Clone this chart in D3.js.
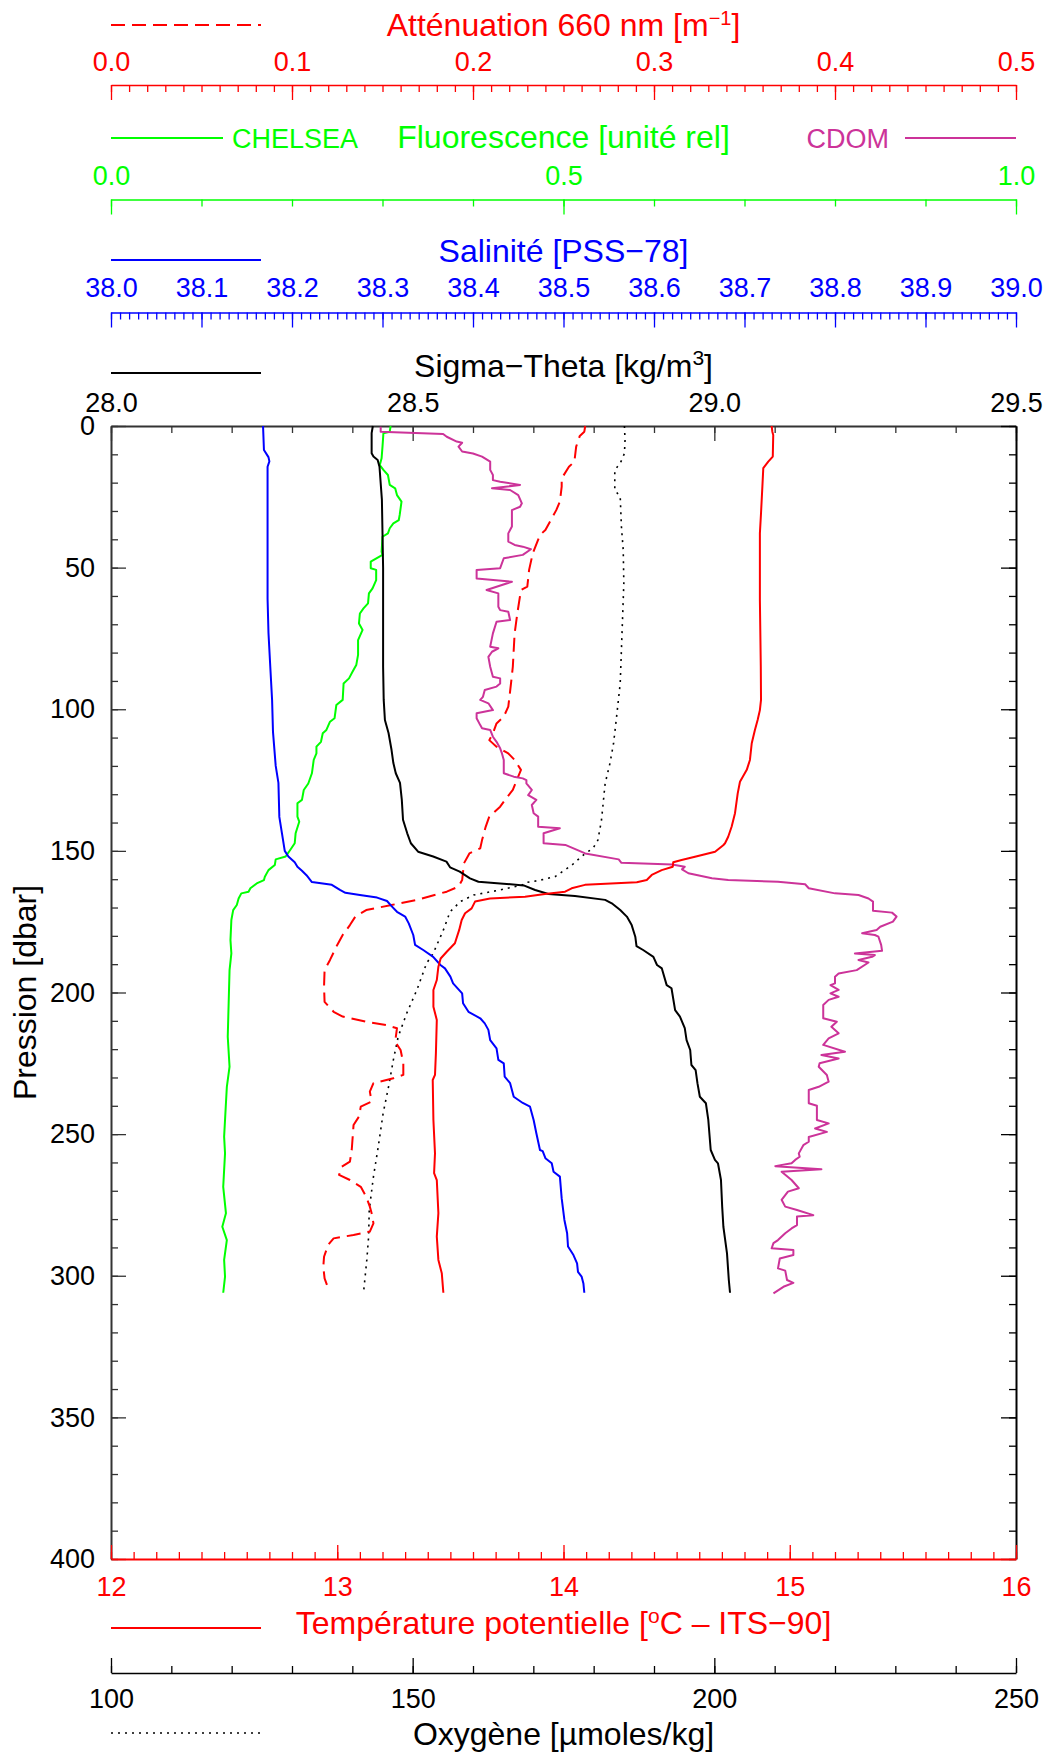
<!DOCTYPE html>
<html>
<head>
<meta charset="utf-8">
<script src="https://cdn.jsdelivr.net/npm/d3@7"></script>
<style>
  html, body { margin: 0; padding: 0; background: #fff; }
  svg { display: block; }
  text { font-family: "Liberation Sans", Arial, Helvetica, sans-serif; }
</style>
</head>
<body>
<svg id="chart" width="1050" height="1758"></svg>
<script>
// ---- Profile data: each entry is [pressure (dbar), value] ----

// Sigma-Theta [kg/m3]
const sigmaTheta = [
  [0, 28.434], [2.5, 28.432], [9.6, 28.432], [10.8, 28.435], [12, 28.442], [14.4, 28.445], [26, 28.449],
  [37.8, 28.450], [50, 28.451], [85, 28.451], [96.7, 28.452], [103.8, 28.454], [108.4, 28.460],
  [114.4, 28.465], [119, 28.468], [122.6, 28.472], [126, 28.479], [132, 28.482], [139, 28.484],
  [143.8, 28.491], [147.3, 28.497], [150.3, 28.509], [152, 28.534], [153.8, 28.556], [155.8, 28.562],
  [157.3, 28.578], [159.7, 28.595], [160.9, 28.609], [161.5, 28.645], [162.2, 28.684], [163.8, 28.703],
  [165.2, 28.725], [165.9, 28.769], [167.3, 28.819], [168.5, 28.830], [170.9, 28.844], [173.2, 28.855],
  [176.2, 28.863], [180.3, 28.869], [183.6, 28.871], [185, 28.882], [187.4, 28.899], [190.3, 28.905],
  [191.5, 28.913], [197.4, 28.921], [198.5, 28.929], [206.2, 28.935], [208.5, 28.943], [212.6, 28.951],
  [216.8, 28.954], [220.3, 28.960], [225.6, 28.962], [227.4, 28.969], [232, 28.972], [236.8, 28.976],
  [239.1, 28.986], [245, 28.990], [255.6, 28.994], [259.1, 29.001], [260.3, 29.006], [266.2, 29.011],
  [275.6, 29.013], [282.7, 29.015], [292.1, 29.021], [301.5, 29.024], [306, 29.026]
];

// Salinity [PSS-78]
const salinity = [
  [0, 38.168], [8.5, 38.169], [11, 38.174], [12.5, 38.175], [14.4, 38.173], [61, 38.173], [73, 38.174],
  [85, 38.176], [96.7, 38.178], [108, 38.179], [120, 38.182], [126, 38.185], [138, 38.186], [144, 38.189],
  [150, 38.192], [152, 38.196], [154, 38.203], [155.6, 38.206], [157, 38.211], [158.6, 38.216],
  [161, 38.222], [162, 38.244], [163.8, 38.253], [164.8, 38.259], [165.6, 38.275], [166.5, 38.294],
  [167.7, 38.305], [169.5, 38.310], [171.5, 38.316], [173.2, 38.325], [175.6, 38.329], [179.7, 38.334],
  [183.2, 38.336], [185, 38.345], [187.4, 38.356], [190.3, 38.364], [191.5, 38.369], [194.4, 38.375],
  [196.8, 38.378], [200.3, 38.388], [203.8, 38.389], [206.8, 38.395], [209.1, 38.408], [210.9, 38.413],
  [213.2, 38.417], [216.8, 38.419], [219.7, 38.426], [223.8, 38.428], [225, 38.434], [229.7, 38.435],
  [232, 38.441], [236.8, 38.445], [239, 38.455], [240.3, 38.463], [245, 38.467], [249.7, 38.470],
  [255.6, 38.474], [256, 38.477], [258.5, 38.480], [260.3, 38.487], [263.3, 38.489], [265, 38.496],
  [272.7, 38.498], [280.3, 38.501], [285, 38.504], [289.7, 38.505], [292.7, 38.511], [295.6, 38.515],
  [298.6, 38.516], [300.3, 38.520], [302.7, 38.522], [306, 38.523]
];

// Fluorescence CHELSEA [relative units]
const fluorescence = [
  [0, 0.309], [2, 0.308], [2.6, 0.301], [7.3, 0.300], [11.4, 0.299], [13.8, 0.297], [15.5, 0.301],
  [17.3, 0.306], [20.8, 0.308], [22, 0.314], [24.4, 0.316], [26.7, 0.321], [31.4, 0.319], [33.2, 0.318],
  [34.4, 0.312], [36.1, 0.308], [37.9, 0.306], [39.1, 0.300], [44.4, 0.299], [45.5, 0.300], [47.9, 0.287],
  [50.2, 0.287], [50.8, 0.293], [54.4, 0.293], [57.3, 0.289], [59.1, 0.285], [62.6, 0.284], [64.4, 0.279],
  [66.2, 0.275], [69.7, 0.274], [72, 0.278], [75.6, 0.273], [80.8, 0.273], [84.4, 0.271], [86.7, 0.267],
  [89.1, 0.263], [90.9, 0.257], [96.7, 0.256], [98.5, 0.249], [103.2, 0.247], [104.4, 0.242],
  [107.3, 0.238], [108.5, 0.234], [111.5, 0.232], [113.2, 0.227], [115.6, 0.227], [117.9, 0.224],
  [122.6, 0.222], [126.2, 0.218], [128.5, 0.213], [132, 0.211], [133.2, 0.206], [137.9, 0.206],
  [139.7, 0.208], [143.8, 0.204], [147.3, 0.203], [149.7, 0.198], [152, 0.193], [153, 0.182], [155, 0.181],
  [156.8, 0.174], [159.1, 0.170], [160.3, 0.169], [161.5, 0.161], [163.2, 0.154], [164.4, 0.152],
  [165, 0.144], [166.8, 0.141], [169.1, 0.139], [170.9, 0.135], [174.4, 0.133], [181.5, 0.132],
  [186.2, 0.133], [192.1, 0.131], [203.8, 0.130], [215.6, 0.129], [226.2, 0.131], [233.3, 0.128],
  [239.1, 0.127], [250.9, 0.125], [256.8, 0.126], [268.6, 0.124], [277.9, 0.127], [282.7, 0.123],
  [287.4, 0.128], [294.4, 0.125], [300.3, 0.126], [306, 0.124]
];

// CDOM fluorescence [relative units]
const cdom = [
  [0.3, 0.298], [2, 0.298], [2.8, 0.367], [3.8, 0.371], [5.5, 0.382], [5.9, 0.388], [7.3, 0.384], [9, 0.388],
  [9.7, 0.400], [10.8, 0.410], [12.6, 0.419], [15.5, 0.419], [17.3, 0.422], [19.1, 0.422], [19.7, 0.430],
  [20.8, 0.452], [22, 0.421], [22.6, 0.441], [24.4, 0.450], [27.3, 0.454], [28.5, 0.452], [29.7, 0.443],
  [35.5, 0.443], [37.9, 0.439], [40.8, 0.439], [42, 0.446], [42.6, 0.455], [43.5, 0.464], [45.5, 0.455],
  [46.7, 0.434], [50.2, 0.430], [50.8, 0.404], [53.8, 0.404], [55, 0.443], [57.9, 0.415], [59.1, 0.428],
  [63.8, 0.428], [65, 0.430], [65.6, 0.439], [68.5, 0.441], [69.1, 0.426], [73.2, 0.422], [77.9, 0.419],
  [78.5, 0.428], [79.7, 0.421], [81.5, 0.417], [85, 0.419], [88.5, 0.422], [89.1, 0.430], [90.9, 0.430],
  [92, 0.426], [93.2, 0.413], [95.6, 0.411], [96.7, 0.408], [97.9, 0.417], [100.3, 0.422], [101.4, 0.404],
  [103.2, 0.404], [105.6, 0.408], [106.7, 0.410], [107.3, 0.419], [109.7, 0.422], [111.5, 0.426],
  [113.8, 0.430], [115.6, 0.432], [117.9, 0.434], [122.6, 0.434], [123.8, 0.445], [124.4, 0.455],
  [125, 0.459], [126.2, 0.459], [128.5, 0.465], [130.3, 0.461], [132, 0.470], [133.8, 0.465],
  [136.7, 0.467], [137.9, 0.472], [141.5, 0.472], [142, 0.496], [143.8, 0.478], [147.3, 0.478],
  [147.9, 0.502], [150.9, 0.524], [153, 0.561], [154.2, 0.564], [154.8, 0.620], [155.6, 0.634],
  [156.5, 0.631], [157.9, 0.638], [159.7, 0.664], [160.3, 0.682], [160.9, 0.737], [161.8, 0.767],
  [163.2, 0.771], [165, 0.800], [165.6, 0.826], [166.8, 0.837], [167.9, 0.842], [171.1, 0.842],
  [171.8, 0.863], [173.2, 0.868], [175, 0.864], [176.8, 0.850], [177.9, 0.846], [179.1, 0.830],
  [179.7, 0.844], [180.3, 0.848], [183.2, 0.851], [185.3, 0.852], [186.2, 0.822], [186.8, 0.844],
  [187.4, 0.841], [188.5, 0.826], [189.4, 0.837], [192.1, 0.824], [193.3, 0.804], [194.4, 0.800],
  [196.8, 0.800], [197.4, 0.795], [199.1, 0.804], [200.3, 0.795], [201.5, 0.804], [202.6, 0.793],
  [204.4, 0.787], [209.1, 0.787], [210.3, 0.802], [212.1, 0.796], [214.4, 0.804], [216.2, 0.793],
  [218.5, 0.787], [220.9, 0.811], [222.1, 0.785], [223.3, 0.804], [225, 0.783], [226.2, 0.782],
  [229.1, 0.791], [231.5, 0.793], [233.3, 0.782], [234.4, 0.771], [239.1, 0.771], [240, 0.780],
  [245, 0.780], [246.2, 0.793], [248, 0.778], [249.2, 0.791], [251, 0.771], [252.7, 0.771],
  [253.9, 0.765], [256.8, 0.760], [258, 0.761], [259.1, 0.756], [260.3, 0.752], [261.3, 0.734],
  [262.4, 0.785], [263.3, 0.741], [266.2, 0.752], [269.1, 0.760], [270.3, 0.748], [273.2, 0.741],
  [275.6, 0.745], [276.8, 0.758], [278.6, 0.776], [279.1, 0.758], [282.1, 0.758], [283.3, 0.752],
  [285, 0.745], [287.4, 0.737], [288.5, 0.732], [290.3, 0.730], [290.9, 0.754], [292.7, 0.754],
  [293.9, 0.739], [297.4, 0.737], [298.2, 0.745], [301.5, 0.747], [302.5, 0.754], [303.9, 0.743],
  [306.2, 0.732]
];

// Beam attenuation at 660 nm [1/m]
const attenuation = [
  [0, 0.262], [2, 0.2615], [3.5, 0.259], [7.3, 0.257], [12.6, 0.256], [14.4, 0.253], [18.5, 0.249],
  [21.4, 0.249], [26.7, 0.248], [29.7, 0.246], [33.2, 0.243], [36.7, 0.240], [38.5, 0.237], [45, 0.233],
  [50.8, 0.231], [56.7, 0.230], [57.9, 0.2265], [66.1, 0.2245], [73.2, 0.223], [85, 0.222], [90.9, 0.221],
  [99.1, 0.2195], [102.6, 0.217], [105, 0.213], [108.5, 0.211], [110.9, 0.209], [113.2, 0.213],
  [115.6, 0.2195], [117.9, 0.223], [121.4, 0.2265], [128.5, 0.222], [130.9, 0.219], [134.4, 0.215],
  [137.9, 0.209], [141.5, 0.207], [146.2, 0.205], [149.1, 0.204], [150.9, 0.198], [154.4, 0.195],
  [160.3, 0.194], [162.6, 0.192], [164.4, 0.1855], [167.3, 0.169], [169.1, 0.155], [170.9, 0.141],
  [173.2, 0.135], [176.2, 0.132], [179.7, 0.128], [183.2, 0.125], [188.5, 0.121], [192.1, 0.118],
  [198, 0.1177], [203.3, 0.118], [206.8, 0.123], [208.5, 0.128], [210.3, 0.141], [211.5, 0.152],
  [212.6, 0.158], [217.4, 0.157], [220.3, 0.160], [225, 0.1615], [229.1, 0.1615], [230.3, 0.156],
  [232, 0.145], [235, 0.143], [238.5, 0.144], [240.3, 0.138], [243.8, 0.137], [246.8, 0.134],
  [255.6, 0.133], [259.7, 0.132], [261.5, 0.1275], [264.4, 0.126], [266.2, 0.132], [268.6, 0.138],
  [272.1, 0.141], [275.6, 0.143], [277.9, 0.144], [281.5, 0.145], [284.4, 0.143], [285.6, 0.134],
  [286.8, 0.123], [289.1, 0.120], [293.3, 0.1177], [296.8, 0.1173], [300.9, 0.118], [303.9, 0.1197]
];

// Potential temperature [degC, ITS-90]
const temperature = [
  [0, 14.920], [2, 14.923], [3.2, 14.927], [10.8, 14.925], [12.6, 14.905], [14.9, 14.883], [21.4, 14.879],
  [30.8, 14.873], [37.9, 14.868], [61.4, 14.868], [85, 14.872], [96.7, 14.873], [100.3, 14.868],
  [103.8, 14.858], [107.3, 14.846], [112, 14.832], [117.9, 14.824], [121.4, 14.810], [125.6, 14.780],
  [129.7, 14.770], [136.7, 14.758], [141.5, 14.743], [145, 14.728], [147.3, 14.714], [148, 14.706],
  [150.3, 14.670], [152.1, 14.581], [153.2, 14.522], [154, 14.485], [155.6, 14.483], [156.8, 14.434],
  [158.5, 14.390], [160.3, 14.368], [161.1, 14.324], [162, 14.095], [163.2, 14.036], [164.4, 14.007],
  [165.2, 13.918], [166.2, 13.830], [166.8, 13.675], [167.9, 13.609], [170.3, 13.594], [172, 13.565],
  [174.4, 13.550], [177.9, 13.539], [182.6, 13.520], [185.6, 13.484], [188, 13.457], [190.9, 13.447],
  [195.6, 13.440], [199.1, 13.425], [205, 13.425], [209.7, 13.440], [221.5, 13.436], [229.1, 13.432],
  [230.9, 13.422], [245, 13.425], [256.8, 13.432], [263.8, 13.428], [266.2, 13.440], [277.9, 13.447],
  [286.2, 13.440], [294.4, 13.447], [299.1, 13.462], [306, 13.469]
];

// Dissolved oxygen [umol/kg]
const oxygen = [
  [0, 185.1], [5, 185.2], [9.7, 185.1], [13.2, 184.4], [15.5, 183.5], [22.6, 183.5], [25, 184.4],
  [35.5, 184.6], [43.8, 184.9], [55.5, 185.0], [67.3, 184.8], [79.1, 184.6], [90.8, 184.4],
  [102.6, 183.8], [112, 183.3], [119.1, 182.7], [126.2, 181.9], [139.1, 181.3], [146.2, 180.7],
  [149.1, 179.9], [150.9, 178.6], [155, 176.4], [159.1, 173.6], [160.5, 170.8], [161.2, 168.6],
  [162, 168.2], [163.8, 164.5], [165.6, 160.1], [167.9, 157.9], [171.5, 156.2], [177.9, 155.1],
  [186.2, 153.4], [189.7, 152.3], [199.1, 150.7], [207.4, 149.0], [215.6, 147.6], [223.8, 146.8],
  [233.3, 146.0], [242.7, 145.1], [254.4, 144.3], [265, 143.5], [276.8, 142.8], [286.2, 142.7],
  [294.4, 142.4], [305, 141.9]
];

// ---- Tick values ----
const pressureTicks = [0, 50, 100, 150, 200, 250, 300, 350, 400];
const attenuationTicks = [0, 0.1, 0.2, 0.3, 0.4, 0.5];
const fluorescenceTicks = [0, 0.5, 1.0];
const salinityTicks = [38.0, 38.1, 38.2, 38.3, 38.4, 38.5, 38.6, 38.7, 38.8, 38.9, 39.0];
const sigmaTicks = [28.0, 28.5, 29.0, 29.5];
const temperatureTicks = [12, 13, 14, 15, 16];
const oxygenTicks = [100, 150, 200, 250];

// ---- Layout ----
const FONT = '"Liberation Sans", Arial, Helvetica, sans-serif';
const X0 = 111, X1 = 1016, Y0 = 426, Y1 = 1559, XC = (X0 + X1) / 2;
const RED = "#ff0000", GREEN = "#00ff00", BLUE = "#0000ff", MAGENTA = "#cc3399", INK = "#000", FRAME = "#333";

const svg = d3.select("#chart");
svg.append("rect").attr("width", 1050).attr("height", 1758).attr("fill", "#fff");

// ---- Scales ----
const y = d3.scaleLinear().domain([0, 400]).range([Y0, Y1]);
const xSigma = d3.scaleLinear().domain([28, 29.5]).range([X0, X1]);
const xSal = d3.scaleLinear().domain([38, 39]).range([X0, X1]);
const xFluo = d3.scaleLinear().domain([0, 1]).range([X0, X1]);
const xAtt = d3.scaleLinear().domain([0, 0.5]).range([X0, X1]);
const xTemp = d3.scaleLinear().domain([12, 16]).range([X0, X1]);
const xOxy = d3.scaleLinear().domain([100, 250]).range([X0, X1]);

const steps = (a, b, n) => d3.range(n + 1).map(i => +(a + (b - a) * i / n).toFixed(4));

// Builds one axis: long major ticks (with labels) plus short minor ticks.
function axis(gen, scale, at, major, minor, opts) {
  const g = svg.append("g").attr("transform", at);
  const mj = gen(scale).tickValues(major).tickSize(opts.major).tickSizeOuter(0)
    .tickPadding(opts.pad).tickFormat(opts.fmt || "");
  g.call(mj);
  g.attr("font-family", FONT).attr("font-size", 27);
  g.select(".domain").attr("stroke", opts.color).attr("stroke-width", opts.lw || 1.5);
  g.selectAll(".tick line").attr("stroke", opts.color).attr("stroke-width", 1.3);
  g.selectAll(".tick text").attr("fill", opts.textColor || opts.color);
  if (minor) {
    const gm = svg.append("g").attr("transform", at);
    gm.call(gen(scale).tickValues(minor).tickSize(opts.minor).tickSizeOuter(0).tickFormat(""));
    gm.select(".domain").remove();
    gm.selectAll(".tick line").attr("stroke", opts.color).attr("stroke-width", 1.3);
  }
  return g;
}

// Attenuation axis (top row)
axis(d3.axisTop, xAtt, "translate(0,85)", attenuationTicks, steps(0, 0.5, 50),
  { major: -15, minor: -7, pad: 14, fmt: d3.format(".1f"), color: RED });
// Fluorescence axis
axis(d3.axisTop, xFluo, "translate(0,199.5)", fluorescenceTicks, steps(0, 1, 10),
  { major: -15, minor: -7, pad: 15, fmt: d3.format(".1f"), color: GREEN });
// Salinity axis
axis(d3.axisTop, xSal, "translate(0,312.5)", salinityTicks, steps(38, 39, 100),
  { major: -15, minor: -7, pad: 15.5, fmt: d3.format(".1f"), color: BLUE });
// Sigma-Theta axis on the frame top
axis(d3.axisTop, xSigma, `translate(0,${Y0})`, sigmaTicks, steps(28, 29.5, 15),
  { major: -15, minor: -7, pad: 14.5, fmt: d3.format(".1f"), color: FRAME, textColor: INK, lw: 2 });
// Pressure axis (left) and mirrored ticks (right)
axis(d3.axisLeft, y, `translate(${X0},0)`, pressureTicks, steps(0, 400, 40),
  { major: -15, minor: -7, pad: 16, fmt: d3.format("d"), color: FRAME, textColor: INK, lw: 2 });
axis(d3.axisRight, y, `translate(${X1},0)`, pressureTicks, steps(0, 400, 40),
  { major: -15, minor: -7, pad: 10, color: INK, lw: 2 });
// Potential temperature axis on the frame bottom
axis(d3.axisBottom, xTemp, `translate(0,${Y1})`, temperatureTicks, steps(12, 16, 40),
  { major: -14, minor: -7, pad: 18, fmt: d3.format("d"), color: RED, lw: 2 });
// Oxygen axis
axis(d3.axisBottom, xOxy, "translate(0,1673)", oxygenTicks, steps(100, 250, 15),
  { major: -15, minor: -7, pad: 16, fmt: d3.format("d"), color: INK });

// ---- Profiles ----
const plot = svg.append("g");
function profile(data, xs, color, width, dash) {
  const line = d3.line().x(d => xs(d[1])).y(d => y(d[0]));
  plot.append("path").datum(data).attr("d", line)
    .attr("fill", "none").attr("stroke", color).attr("stroke-width", width)
    .attr("stroke-linejoin", "round")
    .attr("stroke-dasharray", dash || null);
}
profile(oxygen, xOxy, INK, 1.6, "2,5");
profile(attenuation, xAtt, RED, 2, "14,7");
profile(fluorescence, xFluo, GREEN, 2);
profile(cdom, xFluo, MAGENTA, 2);
profile(salinity, xSal, BLUE, 2);
profile(sigmaTheta, xSigma, INK, 2);
profile(temperature, xTemp, RED, 2);

// ---- Legend keys and titles ----
function key(x1, x2, yy, color, width, dash) {
  svg.append("line").attr("x1", x1).attr("x2", x2).attr("y1", yy).attr("y2", yy)
    .attr("stroke", color).attr("stroke-width", width).attr("stroke-dasharray", dash || null);
}
function title(x, yy, color, parts, anchor, size) {
  const t = svg.append("text").attr("x", x).attr("y", yy).attr("fill", color)
    .attr("font-family", FONT).attr("font-size", size || 32).attr("text-anchor", anchor || "middle");
  parts.forEach(p => {
    const s = t.append("tspan").text(p.t);
    if (p.sup) s.attr("dy", -p.sup).attr("font-size", p.size || 20);
    if (p.down) s.attr("dy", p.down);
  });
  return t;
}

key(X0, 261, 25, RED, 2, "14,7");
title(XC, 36, RED, [{ t: "Atténuation 660 nm [m" }, { t: "−1", sup: 11, size: 20 }, { t: "]", down: 11 }]);

key(X0, 223, 138, GREEN, 2);
title(232, 148, GREEN, [{ t: "CHELSEA" }], "start", 27);
title(XC, 148, GREEN, [{ t: "Fluorescence [unité rel]" }]);
title(889, 148, MAGENTA, [{ t: "CDOM" }], "end", 27);
key(905, X1, 138, MAGENTA, 2);

key(X0, 261, 260, BLUE, 2);
title(XC, 262, BLUE, [{ t: "Salinité [PSS−78]" }]);

key(X0, 261, 373, INK, 2);
title(XC, 377, INK, [{ t: "Sigma−Theta [kg/m" }, { t: "3", sup: 12, size: 21 }, { t: "]", down: 12 }]);

key(X0, 261, 1628, RED, 2);
title(XC, 1634, RED, [{ t: "Température potentielle [" }, { t: "o", sup: 11, size: 21 },
  { t: "C – ITS−90]", down: 11 }]);

key(X0, 261, 1733, INK, 1.6, "2,5");
title(XC, 1745, INK, [{ t: "Oxygène [µmoles/kg]" }]);

// Pressure axis title
svg.append("text").attr("transform", `translate(36,${(Y0 + Y1) / 2}) rotate(-90)`)
  .attr("text-anchor", "middle").attr("font-family", FONT).attr("font-size", 32)
  .attr("fill", INK).text("Pression [dbar]");
</script>
</body>
</html>
